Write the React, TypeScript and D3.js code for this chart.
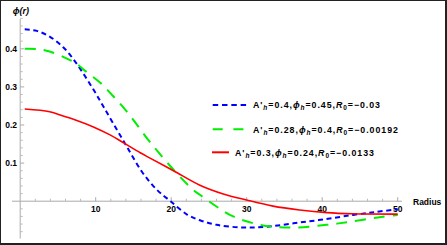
import React from 'react';
import * as d3 from 'd3';

// values
const blueR = [0.6, 2.2, 3.9, 5.7, 7.4, 9.7, 11, 12.3, 14.1, 16.1, 18.1, 19.9, 22.1, 23.8, 26, 29.5, 32.6, 36.2, 40.1, 44.1, 47.2, 50];
const bluePhi = [0.451, 0.447, 0.432, 0.404, 0.363, 0.293, 0.249, 0.205, 0.144, 0.078, 0.03, 0, -0.035, -0.05, -0.062, -0.069, -0.067, -0.058, -0.048, -0.036, -0.028, -0.021];

const greenR = [0.6, 2.5, 3.9, 5.9, 7.4, 8.6, 10.6, 12.3, 14.1, 15.6, 17.2, 20.7, 22.9, 23.8, 26, 28.2, 30.9, 33.5, 36.6, 40.6, 43.7, 47.6, 50];
const greenPhi = [0.4, 0.399, 0.393, 0.377, 0.362, 0.342, 0.311, 0.276, 0.236, 0.197, 0.155, 0.074, 0.03, 0.017, -0.014, -0.04, -0.058, -0.067, -0.069, -0.062, -0.054, -0.042, -0.036];

const redR = [0.6, 3.9, 5.3, 7.5, 9.7, 11.9, 13.7, 15.9, 17.2, 20.3, 23.8, 26.9, 30, 33.5, 37, 40.6, 44.1, 50];
const redPhi = [0.242, 0.235, 0.226, 0.212, 0.195, 0.174, 0.153, 0.127, 0.113, 0.08, 0.042, 0.019, 0.003, -0.013, -0.023, -0.03, -0.033, -0.034];

const xTicks = [10, 20, 30, 40, 50];
const yTicks = [0.1, 0.2, 0.3, 0.4];

const legendA = ['0.4', '0.28', '0.3'];
const legendPhi = ['0.45', '0.4', '0.24'];
const legendR0 = ['\u22120.03', '\u22120.00192', '\u22120.0133'];

const font = 'Liberation Sans, Arial, sans-serif';

const App = () => {
  const W = 447, H = 245;
  const x = d3.scaleLinear().domain([0, 50]).range([20.2, 397.7]);
  const y = d3.scaleLinear().domain([0, 0.4]).range([201.2, 48.8]);

  const line = d3.line<[number, number]>()
    .x(d => x(d[0]))
    .y(d => y(d[1]))
    .curve(d3.curveCatmullRom.alpha(0.5));

  const toPts = (rs: number[], ps: number[]) => rs.map((r, i) => [r, ps[i]] as [number, number]);

  const series = [
    { pts: toPts(blueR, bluePhi), color: '#0000ff', dash: '5,3.6', w: 2 },
    { pts: toPts(greenR, greenPhi), color: '#00ee00', dash: '11,8', w: 2 },
    { pts: toPts(redR, redPhi), color: '#ff0000', dash: null, w: 1.6 },
  ];

  const xMinor = d3.range(2, 50, 2).filter(v => v % 10 !== 0);
  const yMinor = d3.range(-0.08, 0.481, 0.02).filter(v => Math.abs(Math.round(v * 50) % 5) !== 0);

  const legendY = [105, 129.3, 152.3];
  const legendLines = [
    { x1: 212.7, x2: 246.7, dash: '5.5,3.8', color: '#0000ff', tx: 253, len: 127 },
    { x1: 212.7, x2: 243.4, dash: '10,10.7', color: '#00ee00', tx: 253, len: 145 },
    { x1: 212, x2: 229, dash: null, color: '#ff0000', tx: 235, len: 139 },
  ];

  return (
    <svg width={W} height={H} style={{ position: 'absolute', left: 0, top: 0, background: '#fff' }} fontFamily={font}>
      <rect x={0} y={0} width={W} height={H} fill="#fff" />

      {/* axes */}
      <line x1={12} x2={402} y1={y(0)} y2={y(0)} stroke="#aaa" strokeWidth={1} />
      <line x1={x(0)} x2={x(0)} y1={19} y2={238.5} stroke="#aaa" strokeWidth={1} />
      {xTicks.map(t => (
        <g key={'xt' + t}>
          <line x1={x(t)} x2={x(t)} y1={y(0)} y2={y(0) - 4} stroke="#aaa" />
          <text x={x(t)} y={211.5} textAnchor="middle" fontSize={8.5} fontWeight="bold">{t}</text>
        </g>
      ))}
      {xMinor.map(t => (
        <line key={'xm' + t} x1={x(t)} x2={x(t)} y1={y(0)} y2={y(0) - 2.5} stroke="#bbb" />
      ))}
      {yTicks.map(t => (
        <g key={'yt' + t}>
          <line x1={x(0)} x2={x(0) + 4} y1={y(t)} y2={y(t)} stroke="#aaa" />
          <text x={17} y={y(t) + 3} textAnchor="end" fontSize={8.5} fontWeight="bold">{t}</text>
        </g>
      ))}
      {yMinor.map(t => (
        <line key={'ym' + t} x1={x(0)} x2={x(0) + 2.5} y1={y(t)} y2={y(t)} stroke="#bbb" />
      ))}

      <text x={12.7} y={13.5} fontSize={9} fontWeight="bold" fontStyle="italic">{'\u03D5(r)'}</text>
      <text x={413} y={204.5} fontSize={8.5} fontWeight="bold">Radius</text>

      {/* curves */}
      {series.map((s, i) => (
        <path key={i} d={line(s.pts) || ''} fill="none" stroke={s.color} strokeWidth={s.w}
          strokeDasharray={s.dash || undefined} />
      ))}

      {/* legend */}
      {legendLines.map((l, i) => (
        <g key={'lg' + i}>
          <line x1={l.x1} x2={l.x2} y1={legendY[i]} y2={legendY[i]} stroke={l.color} strokeWidth={2}
            strokeDasharray={l.dash || undefined} />
          <text x={l.tx} y={legendY[i] + 3.2} fontSize={8.8} fontWeight="bold" textLength={l.len} lengthAdjust="spacing">
            <tspan>A'</tspan>
            <tspan fontSize={6.5} fontStyle="italic" dy={2}>h</tspan>
            <tspan dy={-2}>{'=' + legendA[i] + ','}</tspan>
            <tspan fontStyle="italic">{'\u03D5'}</tspan>
            <tspan fontSize={6.5} fontStyle="italic" dy={2}>h</tspan>
            <tspan dy={-2}>{'=' + legendPhi[i] + ','}</tspan>
            <tspan fontStyle="italic">R</tspan>
            <tspan fontSize={6.5} dy={2}>0</tspan>
            <tspan dy={-2}>{'=' + legendR0[i]}</tspan>
          </text>
        </g>
      ))}

      {/* frame */}
      <line x1={0} x2={W} y1={0.5} y2={0.5} stroke="#222" strokeWidth={1} />
      <line x1={0.5} x2={0.5} y1={0} y2={H} stroke="#222" strokeWidth={1} />
      <line x1={446} x2={446} y1={0} y2={H} stroke="#222" strokeWidth={2} />
      <line x1={0} x2={W} y1={244} y2={244} stroke="#222" strokeWidth={2} />
    </svg>
  );
};

export default App;
